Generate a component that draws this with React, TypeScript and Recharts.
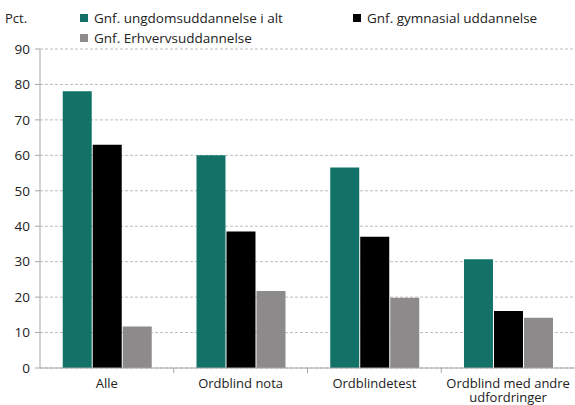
import React from "react";
import { BarChart, Bar, XAxis, YAxis, CartesianGrid } from "recharts";

const categories = ["Alle", "Ordblind nota", "Ordblindetest", "Ordblind med andre\nudfordringer"];
const ungdom = [78.1, 60.0, 56.6, 30.7];
const gymnasial = [63.0, 38.5, 37.0, 16.1];
const erhverv = [11.7, 21.7, 19.8, 14.2];
const yTicks = [0, 10, 20, 30, 40, 50, 60, 70, 80, 90];
const seriesNames = ["Gnf. ungdomsuddannelse i alt", "Gnf. gymnasial uddannelse", "Gnf. Erhvervsuddannelse"];

const COLORS = ["#137268", "#000000", "#8c8a8a"];
const FONT = "'Open Sans', sans-serif";

const data = categories.map((c, i) => ({
  cat: c,
  a: ungdom[i],
  b: gymnasial[i],
  c: erhverv[i],
}));

const CatTick = (props: any) => {
  const { x, y, payload, index } = props;
  const lines = String(payload.value).split("\n");
  const half = payload.offset || 66.9;
  return (
    <g>
      {index > 0 && (
        <line x1={x - half} x2={x - half} y1={y} y2={y + 5} stroke="#a6a6a6" />
      )}
      <text x={x} y={y + 20} textAnchor="middle" fontFamily={FONT} fontSize={13} fill="#222">
        {lines.map((l: string, i: number) => (
          <tspan key={i} x={x} dy={i === 0 ? 0 : 14}>
            {l}
          </tspan>
        ))}
      </text>
    </g>
  );
};

export default function App() {
  return (
    <div style={{ position: "absolute", left: 0, top: 0, width: 575, height: 405, background: "#fff" }}>
      <BarChart
        width={575}
        height={405}
        data={data}
        margin={{ top: 49, right: 0, left: 0, bottom: 0 }}
        barGap={1}
        barCategoryGap="17%"
      >
        <CartesianGrid vertical={false} stroke="#bdbdbd" strokeDasharray="3 2" />
        <XAxis
          dataKey="cat"
          height={37}
          interval={0}
          tickLine={false}
          tickSize={0}
          tickMargin={0}
          stroke="#a6a6a6"
          tick={<CatTick />}
        />
        <YAxis
          width={40}
          domain={[0, 90]}
          ticks={yTicks}
          interval={0}
          stroke="#a6a6a6"
          tickSize={5}
          tickMargin={5}
          tick={{ fontFamily: FONT, fontSize: 13.5, fill: "#222" }}
        />
        <Bar dataKey="a" fill={COLORS[0]} isAnimationActive={false} />
        <Bar dataKey="b" fill={COLORS[1]} isAnimationActive={false} />
        <Bar dataKey="c" fill={COLORS[2]} isAnimationActive={false} />
      </BarChart>
      <div style={{ position: "absolute", left: 5, top: 9, fontFamily: FONT, fontSize: 13, color: "#222", lineHeight: "18px" }}>
        Pct.
      </div>
      {[
        { left: 80, top: 9, i: 0 },
        { left: 353, top: 9, i: 1 },
        { left: 80, top: 29, i: 2 },
      ].map((p) => (
        <div
          key={p.i}
          style={{
            position: "absolute",
            left: p.left,
            top: p.top,
            display: "flex",
            alignItems: "center",
            fontFamily: FONT,
            fontSize: 13.5,
            color: "#222",
            lineHeight: "18px",
            whiteSpace: "nowrap",
          }}
        >
          <span style={{ display: "inline-block", width: 8, height: 8, background: COLORS[p.i], marginRight: 6 }} />
          {seriesNames[p.i]}
        </div>
      ))}
    </div>
  );
}
